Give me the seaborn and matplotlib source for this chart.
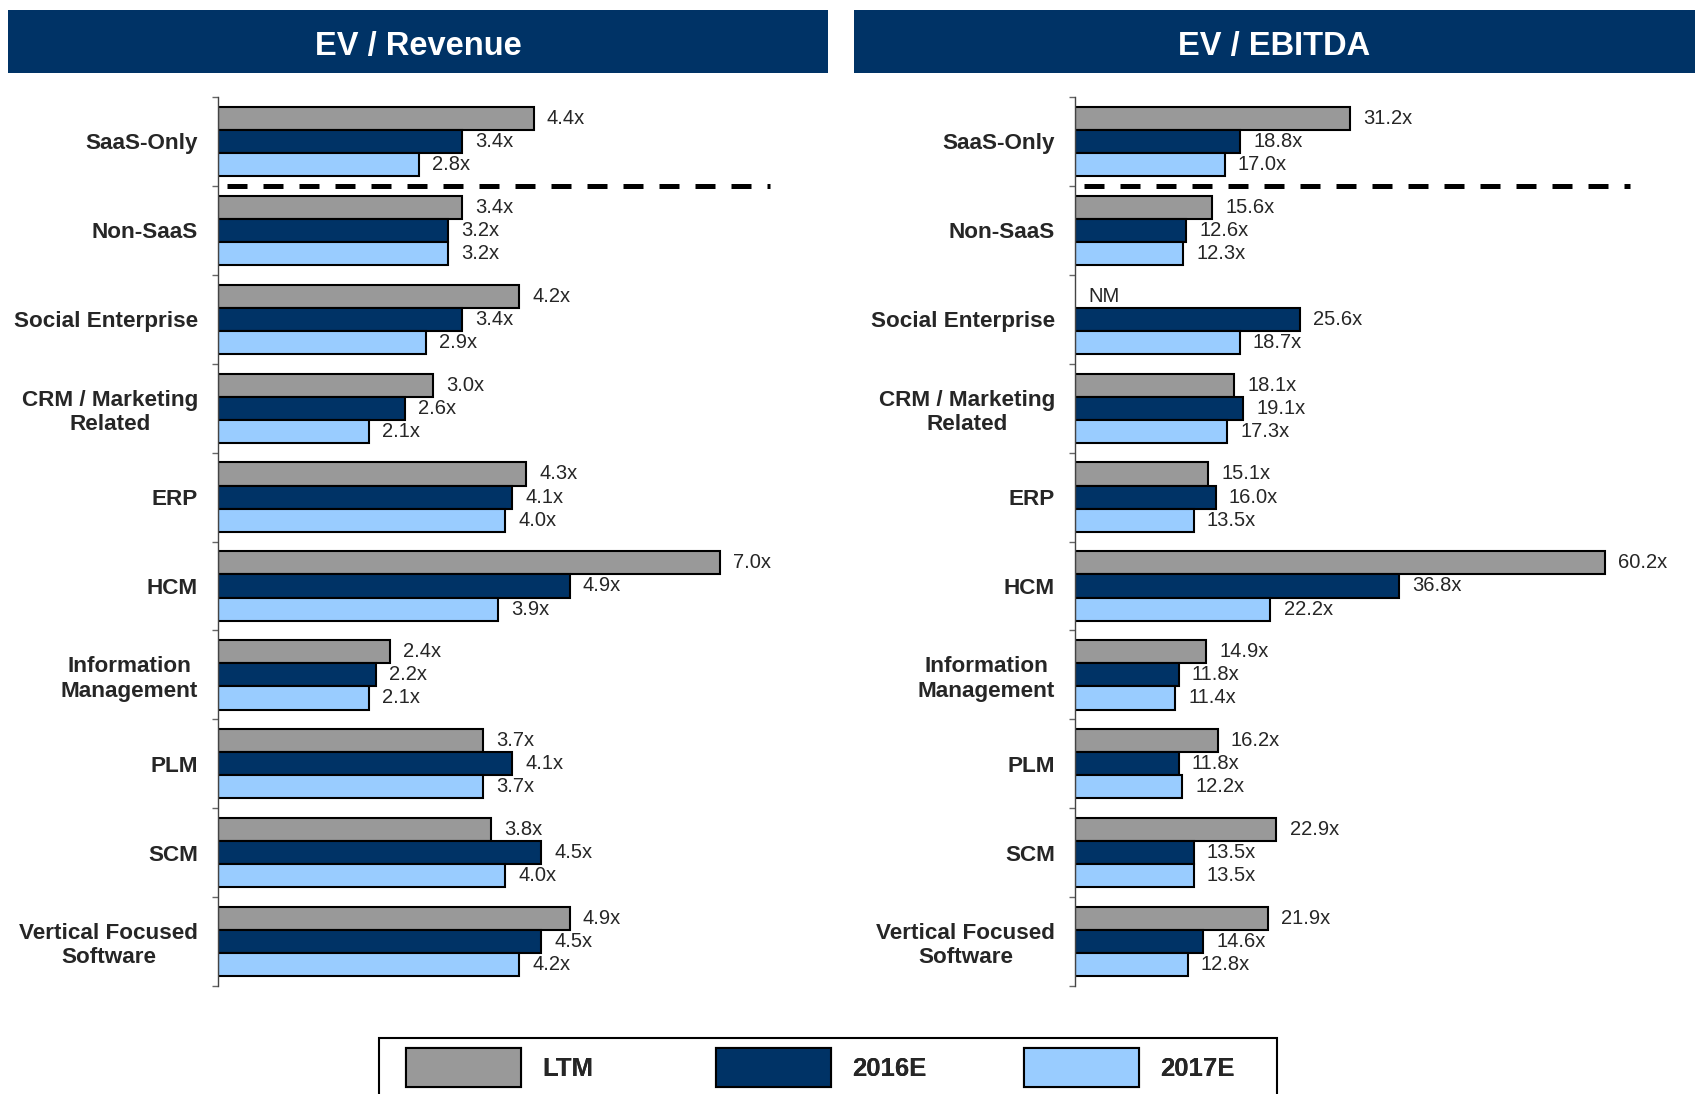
import numpy as np
import pandas as pd
import seaborn as sns
import matplotlib.pyplot as plt
from matplotlib.patches import Rectangle

categories = ["SaaS-Only", "Non-SaaS", "Social Enterprise", "CRM / Marketing\nRelated", "ERP", "HCM",
              "Information\nManagement", "PLM", "SCM", "Vertical Focused\nSoftware"]
series = ["LTM", "2016E", "2017E"]
colors = ["#999999", "#003366", "#99CCFF"]

rev_ltm = [4.4, 3.4, 4.2, 3.0, 4.3, 7.0, 2.4, 3.7, 3.8, 4.9]
rev_2016 = [3.4, 3.2, 3.4, 2.6, 4.1, 4.9, 2.2, 4.1, 4.5, 4.5]
rev_2017 = [2.8, 3.2, 2.9, 2.1, 4.0, 3.9, 2.1, 3.7, 4.0, 4.2]

ebitda_ltm = [31.2, 15.6, np.nan, 18.1, 15.1, 60.2, 14.9, 16.2, 22.9, 21.9]  # Social Enterprise LTM is NM
ebitda_2016 = [18.8, 12.6, 25.6, 19.1, 16.0, 36.8, 11.8, 11.8, 13.5, 14.6]
ebitda_2017 = [17.0, 12.3, 18.7, 17.3, 13.5, 22.2, 11.4, 12.2, 13.5, 12.8]

NAVY = "#003366"
GROUP_W = 0.78


def to_long(ltm, y16, y17):
    rows = []
    for s, vals in zip(series, [ltm, y16, y17]):
        for c, v in zip(categories, vals):
            rows.append({"category": c, "series": s, "value": v})
    return pd.DataFrame(rows)


sns.set_style("white")
plt.rcParams["font.family"] = ["Liberation Sans", "DejaVu Sans"]

fig = plt.figure(figsize=(16.95, 10.94), dpi=100)
ax1 = fig.add_axes([0.1286, 0.0987, 0.3386, 0.8126])
ax2 = fig.add_axes([0.6342, 0.0987, 0.3416, 0.8126])

panels = [
    (ax1, to_long(rev_ltm, rev_2016, rev_2017), 8, 0.962, "EV / Revenue", (8, 828)),
    (ax2, to_long(ebitda_ltm, ebitda_2016, ebitda_2017), 65.8, 0.958, "EV / EBITDA", (854, 1695)),
]

W, H = 1695, 1094
for ax, df, xmax, dash_end, title, (hx0, hx1) in panels:
    sns.barplot(data=df, x="value", y="category", hue="series", order=categories,
                hue_order=series, palette=colors, saturation=1, orient="h", width=GROUP_W,
                edgecolor="black", linewidth=1.5, errorbar=None, ax=ax, legend=True)
    ax.get_legend().remove()
    ax.set_xlim(0, xmax)
    ax.set_ylim(len(categories) - 0.5, -0.5)
    ax.set_xlabel("")
    ax.set_ylabel("")
    ax.set_xticks([])
    for sp in ["top", "right", "bottom"]:
        ax.spines[sp].set_visible(False)
    ax.spines["left"].set_color("#444444")
    ax.spines["left"].set_linewidth(1.0)

    # tick marks sit between groups, labels at group centres
    ax.set_yticks(np.arange(-0.5, len(categories)), minor=True)
    ax.tick_params(axis="y", which="minor", length=4.5, width=1, color="#666666", left=True)
    ax.tick_params(axis="y", which="major", length=0, pad=14.5, labelsize=16.2)
    for lbl in ax.get_yticklabels():
        lbl.set_fontweight("bold")
        lbl.set_multialignment("center")

    # value labels
    bw = GROUP_W / 3
    vals = df.pivot(index="category", columns="series", values="value").loc[categories, series]
    for i, c in enumerate(categories):
        for h, s in enumerate(series):
            v = vals.loc[c, s]
            y = i + (h - 1) * bw
            if np.isnan(v):
                ax.annotate("NM", (0, y), xytext=(10, 0), textcoords="offset points",
                            va="center", ha="left", fontsize=14.5)
            else:
                ax.annotate(f"{v:.1f}x", (v, y), xytext=(9.5, 0), textcoords="offset points",
                            va="center", ha="left", fontsize=14.5)

    # dashed separator under SaaS-Only
    ax.axhline(0.5, xmin=0.016, xmax=dash_end, color="black", lw=3.6,
               linestyle=(0, (4.0, 3.2)), clip_on=False)

    # header band
    fig.patches.append(Rectangle((hx0 / W, 1 - 73 / H), (hx1 - hx0) / W, 63 / H,
                                 transform=fig.transFigure, facecolor=NAVY, edgecolor="none"))
    fig.text((hx0 + hx1) / 2 / W, 1 - 47 / H, title, color="white", fontsize=23.5,
             fontweight="bold", ha="center", va="center")

# legend: frame running off the bottom, entries evenly spaced
handles, labels = ax1.get_legend_handles_labels()
fig.patches.append(Rectangle((379 / W, -0.02), (1277 - 379) / W, 0.02 + 1 - 1038 / H,
                             transform=fig.transFigure, facecolor="none", edgecolor="black",
                             linewidth=1.5, clip_on=False))
for hnd, lab, x0 in zip(handles[:3], labels[:3], [406, 716, 1024]):
    leg = fig.legend([hnd], [lab], loc="upper left", bbox_to_anchor=(x0 / W, 1 - 1048 / H),
                     frameon=False, borderpad=0, borderaxespad=0,
                     handlelength=4.48, handleheight=1.96, handletextpad=0.82,
                     prop={"size": 18.5, "weight": "bold"})
    fig.add_artist(leg)

fig.savefig("out.png", dpi=100)
